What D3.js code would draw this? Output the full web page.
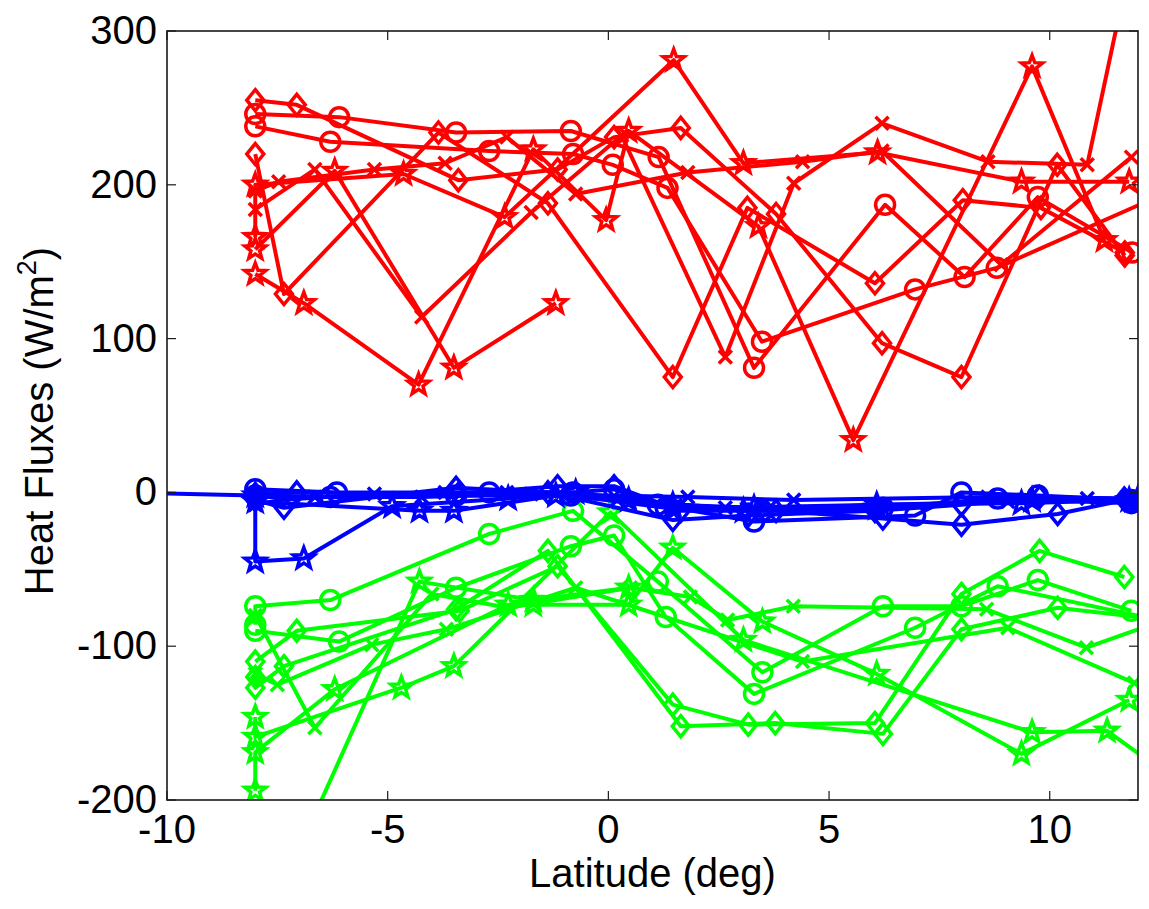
<!DOCTYPE html>
<html><head><meta charset="utf-8">
<script src="https://cdn.jsdelivr.net/npm/d3@7"></script>
<style>body{margin:0;background:#fff}svg{display:block}text{font-family:"Liberation Sans",Arial,sans-serif;fill:#000}</style>
</head><body>
<svg id="c" width="1149" height="909"></svg>
<script>
// ---- data: [latitude, heat flux] pairs ----
const xTicks = [-10, -5, 0, 5, 10];
const yTicks = [-200, -100, 0, 100, 200, 300];

const redStar1 = [[-8,142],[-6.9,123],[-4.3,70],[-1.7,223],[-0.05,177],[0.46,235],[3.4,173],[5.55,34],[9.6,277],[11.24,164]];
const redStar2 = [[-8,158],[-6.2,209],[-3.5,81],[-1.19,123]];
const redStar3 = [[-8,166],[-8,200],[-4.64,207],[-2.35,179],[1.48,281],[3.06,214],[6.1,221],[9.36,202],[11.8,202]];
const redX1 = [[-8,184],[-6.65,210],[-4.23,114],[-1.75,182],[0.3,232],[2.65,88],[4.2,201],[6.2,240],[8.6,215],[10.85,213],[12,368]];
const redX2 = [[-8,196],[-7.47,202],[-5.3,210],[-3.7,214],[-2.3,231],[-0.74,194],[1.8,208],[4.4,215],[6.2,222],[8.9,148],[11.85,218]];
const redDiamond1 = [[-8,255],[-7.06,252],[-3.4,203],[-1.15,210],[0.13,231],[1.64,237],[3.8,181],[6.2,97],[8.0,75],[10.17,213],[11.7,154]];
const redDiamond2 = [[-8,220],[-7.35,129],[-3.85,234],[-1.37,188],[1.46,75],[3.15,185],[6.04,136],[8.03,190],[9.8,185],[11.7,156]];
const redCircle1 = [[-8,246],[-6.1,244],[-3.45,234],[-0.85,235],[1.14,218],[3.3,81],[6.27,187],[8.07,140],[9.73,192],[11.87,156]];
const redCircle2 = [[-8,238],[-6.3,228],[-2.7,222],[-0.8,220],[0.1,213],[1.34,198],[3.48,98],[6.95,132],[8.8,146],[12.5,193]];

const blueStar1 = [[-11,0],[-8,-2],[-8,-45],[-6.9,-43],[-4.9,-9],[-2.27,-4],[-0.74,0],[1.46,-8],[3.3,-10],[6.08,-10],[9.6,-5],[12,-4]];
const blueStar2 = [[-8,-6],[-4.28,-12],[-3.5,-12],[-1.19,-2],[0.46,-5],[3.06,-12],[6.08,-8],[9.36,-7],[11.8,-5]];
const blueX1 = [[-8,-3],[-6.65,-3],[-4.23,-3],[-1.75,-1],[1.8,-3],[4.2,-5],[8.6,-3],[10.85,-4],[12.3,-4]];
const blueX2 = [[-8,-8],[-7.47,-5],[-5.3,-1],[-3.7,0],[-2.3,0],[0.2,-5],[2.65,-10],[6.2,-8],[9.05,-6],[11.92,-5]];
const blueDiamond1 = [[-8,-1],[-7.06,0],[-3.4,-1],[-1.15,4],[0.13,4],[1.64,-12],[3.8,-12],[6.22,-17],[8.0,-21],[10.18,-14],[11.7,-5]];
const blueDiamond2 = [[-8,-5],[-7.35,-10],[-3.45,3],[-1.37,0],[1.46,-18],[3.17,-15],[6.04,-12],[8.0,-8],[9.77,-3],[11.69,-4]];
const blueCircle1 = [[-8,2],[-6.15,0],[-2.7,0],[-0.8,0],[0.13,2],[1.12,-8],[3.3,-19],[6.95,-15],[8.0,0],[9.73,-2],[11.85,-5]];
const blueCircle2 = [[-8,-2],[-6.3,-3],[-3.45,-2],[-0.85,-2],[1.3,-10],[3.49,-12],[6.22,-10],[8.82,-4],[11.85,-7]];

const greenCircle1 = [[-8,-86],[-8,-74],[-6.3,-70],[-2.7,-27],[-0.8,-12],[1.12,-58],[3.49,-117],[6.22,-74],[8.0,-74],[9.73,-57],[11.85,-77]];
const greenCircle2 = [[-8,-90],[-6.1,-97],[-3.45,-62],[-0.85,-35],[0.13,-28],[1.3,-81],[3.3,-131],[6.95,-88],[8.82,-61],[12.3,-82]];
const greenDiamond1 = [[-8,-110],[-7.06,-90],[-3.37,-77],[-1.15,-48],[1.46,-138],[3.17,-151],[6.04,-150],[8.0,-66],[9.77,-38],[11.69,-55]];
const greenDiamond2 = [[-8,-120],[-8,-127],[-7.35,-113],[-3.45,-76],[-1.37,-38],[1.64,-152],[3.78,-150],[6.22,-157],[8.0,-89],[10.18,-75],[12.3,-82]];
const greenStar1 = [[-8,-194],[-8,-169],[-6.2,-128],[-2.27,-73],[-1.7,-73],[0.46,-73],[1.46,-36],[3.49,-84],[6.08,-118],[9.36,-170],[11.8,-135]];
const greenStar2 = [[-8,-146],[-8,-159],[-4.69,-127],[-3.5,-113],[0.05,-13],[3.06,-96],[9.6,-156],[11.3,-155],[12.5,-180]];
const greenStar3 = [[-7.75,-280],[-4.28,-58],[-1.7,-70],[0.46,-62]];
const greenX1 = [[-8,-80],[-6.65,-153],[-4.0,-66],[-2.27,-75],[0.5,-62],[1.86,-68],[2.7,-83],[4.19,-74],[8.57,-76],[10.83,-101],[12.3,-86]];
const greenX2 = [[-8,-118],[-7.5,-125],[-5.36,-99],[-3.67,-89],[-0.74,-62],[4.4,-110],[9.05,-88],[11.92,-124]];

const RED = "#ff0000", BLUE = "#0000ff", GREEN = "#00ff00";
const series = [
  {d: greenCircle1, c: GREEN, m: "circle"}, {d: greenCircle2, c: GREEN, m: "circle"},
  {d: greenDiamond1, c: GREEN, m: "diamond"}, {d: greenDiamond2, c: GREEN, m: "diamond"},
  {d: greenStar1, c: GREEN, m: "star"}, {d: greenStar2, c: GREEN, m: "star"}, {d: greenStar3, c: GREEN, m: "star"},
  {d: greenX1, c: GREEN, m: "x"}, {d: greenX2, c: GREEN, m: "x"},
  {d: blueStar1, c: BLUE, m: "star"}, {d: blueStar2, c: BLUE, m: "star"},
  {d: blueX1, c: BLUE, m: "x"}, {d: blueX2, c: BLUE, m: "x"},
  {d: blueDiamond1, c: BLUE, m: "diamond"}, {d: blueDiamond2, c: BLUE, m: "diamond"},
  {d: blueCircle1, c: BLUE, m: "circle"}, {d: blueCircle2, c: BLUE, m: "circle"},
  {d: redStar1, c: RED, m: "star"}, {d: redStar2, c: RED, m: "star"}, {d: redStar3, c: RED, m: "star"},
  {d: redX1, c: RED, m: "x"}, {d: redX2, c: RED, m: "x"},
  {d: redDiamond1, c: RED, m: "diamond"}, {d: redDiamond2, c: RED, m: "diamond"},
  {d: redCircle1, c: RED, m: "circle"}, {d: redCircle2, c: RED, m: "circle"}
];

// ---- layout ----
const L = 167, R = 1138, T = 31, B = 800;
const svg = d3.select("#c");
const x = d3.scaleLinear().domain([-10, 12]).range([L, R]);
const y = d3.scaleLinear().domain([-200, 300]).range([B, T]);

svg.append("defs").append("clipPath").attr("id", "clip")
  .append("rect").attr("x", L).attr("y", T).attr("width", R - L).attr("height", B - T);

const plot = svg.append("g").attr("clip-path", "url(#clip)");
const line = d3.line().x(d => x(d[0])).y(d => y(d[1]));

function starPath(Ro, Ri) {
  let p = "";
  for (let i = 0; i < 10; i++) {
    const r = i % 2 === 0 ? Ro : Ri;
    const a = -Math.PI / 2 + i * Math.PI / 5;
    p += (i ? "L" : "M") + (r * Math.cos(a)).toFixed(2) + "," + (r * Math.sin(a)).toFixed(2);
  }
  return p + "Z";
}
const markerPath = {
  circle: "M9.5,0A9.5,9.5 0 1,1 -9.5,0A9.5,9.5 0 1,1 9.5,0Z",
  diamond: "M0,-10.5L8.5,0L0,10.5L-8.5,0Z",
  star: starPath(11, 4.6),
  x: "M-6.5,-6.5L6.5,6.5M-6.5,6.5L6.5,-6.5"
};

series.forEach(s => {
  const g = plot.append("g");
  g.append("path").datum(s.d).attr("d", line).attr("fill", "none")
    .attr("stroke", s.c).attr("stroke-width", 4).attr("stroke-linejoin", "round");
  g.selectAll("path.mk").data(s.d).enter().append("path").attr("class", "mk")
    .attr("transform", d => `translate(${x(d[0])},${y(d[1])})`)
    .attr("d", markerPath[s.m]).attr("fill", "none")
    .attr("stroke", s.c).attr("stroke-width", 3.5).attr("stroke-linejoin", "miter");
});

// ---- axes ----
const axisCol = "#1a1a1a";
const ax = svg.append("g");
ax.append("rect").attr("x", L).attr("y", T).attr("width", R - L).attr("height", B - T)
  .attr("fill", "none").attr("stroke", axisCol).attr("stroke-width", 1.6);

const tl = 9;
xTicks.forEach(t => {
  ax.append("line").attr("x1", x(t)).attr("x2", x(t)).attr("y1", B).attr("y2", B - tl).attr("stroke", axisCol).attr("stroke-width", 1.2);
  ax.append("line").attr("x1", x(t)).attr("x2", x(t)).attr("y1", T).attr("y2", T + tl).attr("stroke", axisCol).attr("stroke-width", 1.2);
  ax.append("text").attr("x", x(t)).attr("y", 843).attr("text-anchor", "middle")
    .attr("font-size", 40).text(t);
});
yTicks.forEach(t => {
  ax.append("line").attr("x1", L).attr("x2", L + tl).attr("y1", y(t)).attr("y2", y(t)).attr("stroke", axisCol).attr("stroke-width", 1.2);
  ax.append("line").attr("x1", R).attr("x2", R - tl).attr("y1", y(t)).attr("y2", y(t)).attr("stroke", axisCol).attr("stroke-width", 1.2);
  ax.append("text").attr("x", 157).attr("y", y(t) + 13).attr("text-anchor", "end")
    .attr("font-size", 40).text(t);
});

svg.append("text").attr("x", (L + R) / 2).attr("y", 887).attr("text-anchor", "middle")
  .attr("font-size", 40).text("Latitude (deg)");

const yl = svg.append("text").attr("transform", "translate(53,421) rotate(-90)")
  .attr("text-anchor", "middle").attr("font-size", 40);
yl.append("tspan").text("Heat Fluxes (W/m");
yl.append("tspan").attr("font-size", 27).attr("dy", -17).text("2");
yl.append("tspan").attr("dy", 17).text(")");
</script>
</body></html>
